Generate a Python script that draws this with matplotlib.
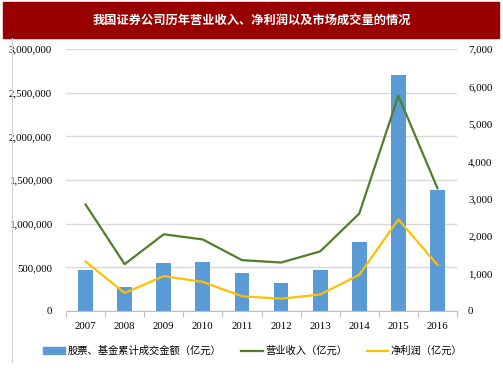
import numpy as np
import matplotlib
matplotlib.use('Agg')
import matplotlib.pyplot as plt
from matplotlib.patches import Rectangle
from matplotlib.lines import Line2D
from matplotlib.ticker import FuncFormatter

plt.rcParams['font.family'] = ['Liberation Serif', 'Noto Sans CJK SC']

# 数据
years = ['2007', '2008', '2009', '2010', '2011', '2012', '2013', '2014', '2015', '2016']
turnover = [465000, 272000, 545000, 556000, 432000, 318000, 472000, 786000, 2700000, 1385000]
revenue = [2847, 1251, 2050, 1911, 1359, 1295, 1592, 2603, 5752, 3280]
net_profit = [1321, 482, 933, 776, 394, 329, 440, 966, 2448, 1234]

title = '我国证券公司历年营业收入、净利润以及市场成交量的情况'
labels = ['股票、基金累计成交金额（亿元）', '营业收入（亿元）', '净利润（亿元）']

blue = '#5B9BD5'
green = '#4F7F2A'
yellow = '#FFC000'
grid_c = '#D9D9D9'

fig = plt.figure(figsize=(5.03, 3.78), dpi=100)

# 标题栏
fig.patches.append(Rectangle((3 / 503, 1 - 38 / 378), 496 / 503, 36 / 378,
                             transform=fig.transFigure, color='#990000', zorder=0))
fig.text(0.5, 1 - 20 / 378, title, color='white', fontsize=8.8, fontweight='bold',
         ha='center', va='center', family=['Noto Sans CJK SC'])
# 左侧细边线
fig.add_artist(Line2D([11.5 / 503, 11.5 / 503], [1 - 362 / 378, 1 - 38 / 378],
                      transform=fig.transFigure, color='#D0D0D0', lw=0.8))

ax = fig.add_axes([66 / 503, 1 - 311 / 378, 391 / 503, 262 / 378])
x = np.arange(len(years))
ax.bar(x, turnover, width=0.38, color=blue, zorder=2)
ax.set_ylim(0, 3000000)
ax.set_yticks(np.arange(0, 3000001, 500000))
ax.yaxis.set_major_formatter(FuncFormatter(lambda v, p: f'{int(v):,}'))
ax.set_xlim(-0.5, len(years) - 0.5)
ax.set_xticks(x)
ax.set_xticklabels(years)
ax.set_xticks(np.arange(-0.5, len(years)), minor=True)
ax.tick_params(axis='x', which='major', length=0, pad=8, labelsize=7.8)
ax.tick_params(axis='x', which='minor', length=4, color='#BFBFBF', width=0.8)
ax.tick_params(axis='y', length=0, pad=10, labelsize=7.8)
ax.grid(axis='y', color=grid_c, lw=1, zorder=0)
ax.set_axisbelow(True)
for s in ['left', 'right', 'top']:
    ax.spines[s].set_visible(False)
ax.spines['bottom'].set_color('#BFBFBF')

ax2 = ax.twinx()
ax2.plot(x, revenue, color=green, lw=1.6, zorder=3)
ax2.plot(x, net_profit, color=yellow, lw=1.6, zorder=3)
ax2.set_ylim(0, 7000)
ax2.set_yticks(np.arange(0, 7001, 1000))
ax2.yaxis.set_major_formatter(FuncFormatter(lambda v, p: f'{int(v):,}'))
ax2.tick_params(axis='y', length=0, pad=8, labelsize=7.8)
for s in ['left', 'right', 'top', 'bottom']:
    ax2.spines[s].set_visible(False)

handles = [Rectangle((0, 0), 1, 1, color=blue),
           Line2D([], [], color=green, lw=1.6),
           Line2D([], [], color=yellow, lw=1.6)]
fig.legend(handles, labels, loc='center', bbox_to_anchor=(253 / 503, 1 - 351 / 378),
           ncol=3, frameon=False, prop={'family': 'Noto Sans CJK SC', 'size': 7.4},
           handlelength=2.1, handleheight=0.6, handletextpad=0.25, columnspacing=1.9)

fig.savefig('out.png', dpi=100)
